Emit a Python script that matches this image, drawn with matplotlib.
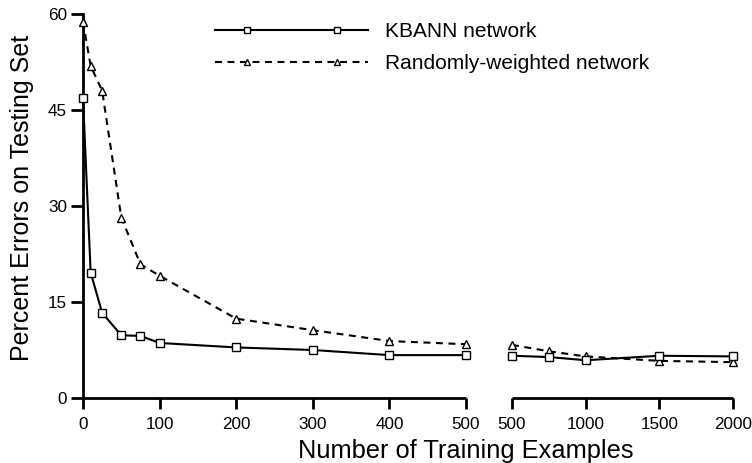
import matplotlib
matplotlib.use("Agg")
import numpy as np
import matplotlib.pyplot as plt
from matplotlib.lines import Line2D
from matplotlib.legend_handler import HandlerLine2D

plt.rcParams['font.family'] = ['Liberation Sans', 'DejaVu Sans']
plt.rcParams['lines.scale_dashes'] = False

# Left panel (0-500 examples)
x_left = [0, 10, 25, 50, 75, 100, 200, 300, 400, 500]
kbann_left = [46.8, 19.6, 13.3, 9.8, 9.7, 8.6, 7.9, 7.5, 6.7, 6.7]
random_left = [58.8, 51.9, 48.0, 28.2, 20.9, 19.1, 12.4, 10.6, 8.9, 8.4]

# Right panel (500-2000 examples)
x_right = [500, 750, 1000, 1500, 2000]
kbann_right = [6.6, 6.4, 5.9, 6.6, 6.5]
random_right = [8.3, 7.3, 6.5, 5.8, 5.6]

left_xticks = [0, 100, 200, 300, 400, 500]
right_xticks = [500, 1000, 1500, 2000]
yticks = [0, 15, 30, 45, 60]

labels = ["KBANN network", "Randomly-weighted network"]


class FullLineHandler(HandlerLine2D):
    """Line spans the whole handle, markers inset by marker_pad."""
    def create_artists(self, legend, orig_handle, xdescent, ydescent,
                       width, height, fontsize, trans):
        y = (height - ydescent) / 2
        line = Line2D([-xdescent, -xdescent + width], [y, y])
        self.update_prop(line, orig_handle, legend)
        line.set_marker('None')
        pad = self._marker_pad * fontsize
        xm = np.linspace(-xdescent + pad, -xdescent + width - pad, 2)
        mk = Line2D(xm, [y, y])
        self.update_prop(mk, orig_handle, legend)
        mk.set_linestyle('None')
        line.set_transform(trans)
        mk.set_transform(trans)
        return [line, mk]


W, H = 752, 463
fig = plt.figure(figsize=(W / 100, H / 100), dpi=100)
axL = fig.add_axes([83 / W, (H - 398) / H, 383 / W, 384 / H])
axR = fig.add_axes([512 / W, (H - 398) / H, 221 / W, 384 / H])

lw = 1.5
spine_lw = 2.0
ms = 5.5
style_k = dict(color='black', lw=lw, marker='s', ms=ms, mfc='white', mec='black',
               mew=1.0, clip_on=False, zorder=5)
style_r = dict(color='black', lw=lw, marker='^', ms=ms + 0.5, mfc='white', mec='black',
               mew=1.0, clip_on=False, zorder=5, dashes=(5, 4))

axL.plot(x_left, random_left, **style_r)
axL.plot(x_left, kbann_left, **style_k)
axR.plot(x_right, random_right, **style_r)
axR.plot(x_right, kbann_right, **style_k)

for ax, xl, xt in [(axL, (0, 500), left_xticks), (axR, (500, 2000), right_xticks)]:
    ax.set_xlim(*xl)
    ax.set_ylim(0, 60)
    ax.set_xticks(xt)
    ax.set_xticklabels([str(v) for v in xt])
    for s in ['top', 'right']:
        ax.spines[s].set_visible(False)
    ax.spines['bottom'].set_linewidth(spine_lw)
    ax.spines['left'].set_linewidth(spine_lw)
    ax.spines['bottom'].set_bounds(xl[0], xl[1])
    ax.spines['bottom'].set_capstyle('butt')
    ax.tick_params(axis='x', direction='out', length=8, width=spine_lw, labelsize=12.3, pad=5.5)
    ax.tick_params(axis='y', direction='out', length=8.5, width=spine_lw, labelsize=12.3, pad=3)

axL.set_yticks(yticks)
axL.set_yticklabels([str(v) for v in yticks])
axL.spines['left'].set_bounds(0, 60)

axR.spines['left'].set_visible(False)
axR.set_yticks([])

fig.text(22 / W, 1 - 197.5 / H, "Percent Errors on Testing Set", fontsize=18,
         rotation=90, ha='center', va='center')
fig.text(465.5 / W, 1 - 451 / H, "Number of Training Examples", fontsize=18.3,
         ha='center', va='center')

handles = [Line2D([], [], color='black', lw=lw, marker='s', ms=4.5, mfc='white', mec='black', mew=1.0),
           Line2D([], [], color='black', lw=lw, marker='^', ms=5, mfc='white', mec='black', mew=1.0,
                  dashes=(5, 4))]
leg = fig.legend(handles, labels, loc='upper left', bbox_to_anchor=(207 / W, 1 - 14 / H),
                 frameon=False, fontsize=15, handlelength=7.35, handletextpad=0.8,
                 labelspacing=0.6, borderaxespad=0,
                 handler_map={Line2D: FullLineHandler(marker_pad=1.5, numpoints=2)})

fig.savefig("out.png", dpi=100)
